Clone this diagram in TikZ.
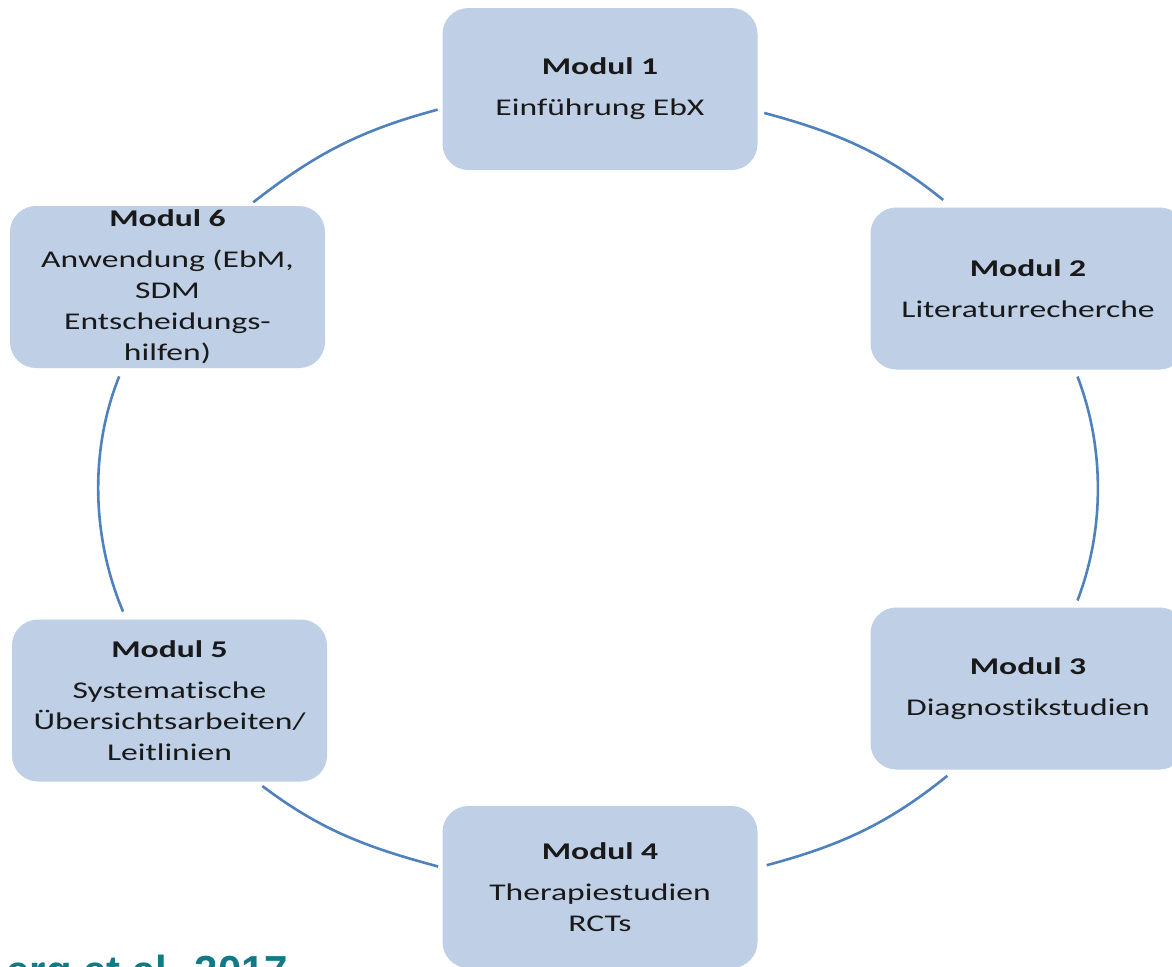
\documentclass[tikz,border=0pt]{standalone}
\usepackage{fontspec}
\setmainfont{Carlito}[FakeStretch=1.4, Ligatures=NoCommon]
\newfontfamily\citefont{Liberation Sans}
\definecolor{modulfill}{RGB}{190,207,230}
\definecolor{ringblue}{RGB}{79,129,189}
\definecolor{citeteal}{RGB}{16,122,135}
\begin{document}
\begin{tikzpicture}
	[x=0.5pt, y=0.5pt,
	modul/.style={fill=modulfill, rounded corners=13pt,
		minimum width=157.5pt, minimum height=81pt,
		inner sep=0pt, outer sep=0pt, align=center,
		font=\fontsize{12}{15.5}\selectfont, text=black!90},
	ring/.style={draw=ringblue, line width=1.3pt}]
	\useasboundingbox (0,0) rectangle (1172,-966);
	\clip (0,0) rectangle (1172,-966);
	% the six modules
	\node[modul] (m1) at (600,-89) {\textbf{Modul 1}\\[5pt] Einführung EbX};
	\node[modul] (m2) at (1028,-288.5) {\textbf{Modul 2}\\[5pt] Literaturrecherche};
	\node[modul] (m3) at (1028,-688.5) {\textbf{Modul 3}\\[5pt] Diagnostikstudien};
	\node[modul] (m4) at (600,-887) {\textbf{Modul 4}\\[5pt] Therapiestudien\\ RCTs};
	\node[modul] (m5) at (169.5,-700.5) {\textbf{Modul 5}\\[5pt] Systematische\\ Übersichtsarbeiten/\\ Leitlinien};
	\node[modul] (m6) at (167.5,-287) {\textbf{Modul 6}\\[5pt] Anwendung (EbM,\\ SDM\\ Entscheidungs-\\ hilfen)};
	% ring between the modules
	\draw[ring, shorten <=3.5pt, shorten >=6pt] (m1.352) to[out=345, in=141] (m2.133);
	\draw[ring, shorten <=3.75pt, shorten >=3.75pt] (m2.300) to[out=291, in=69, looseness=0.9] (m3.60);
	\draw[ring, shorten <=5pt, shorten >=4.75pt] (m3.228) to[out=219, in=15] (m4.7);
	\draw[ring, shorten <=2.25pt, shorten >=3.75pt] (m4.173) to[out=165, in=323] (m5.317);
	\draw[ring, shorten <=4.25pt, shorten >=4.5pt] (m5.118) to[out=113, in=248, looseness=0.9] (m6.241);
	\draw[ring, shorten <=3pt, shorten >=2.5pt] (m6.45) to[out=38, in=195] (m1.187);
	% source, cut off at the lower edge
	\node[anchor=base west, inner sep=0pt, text=citeteal,
		font=\citefont\bfseries\fontsize{21}{25}\selectfont] (quelle) at (6,-985) {erg et al. 2017};
\end{tikzpicture}
\end{document}
